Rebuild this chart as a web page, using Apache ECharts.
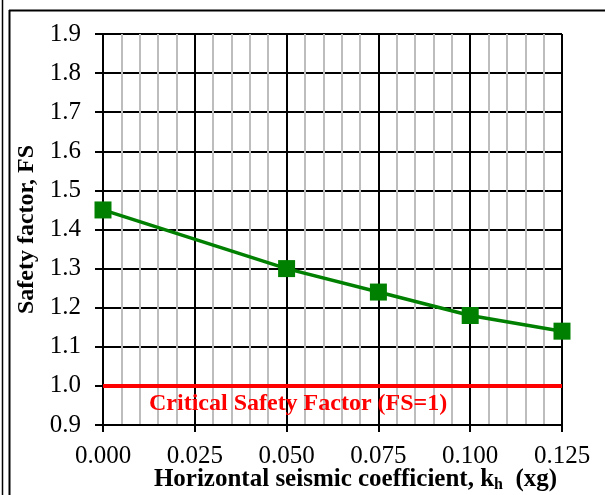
<!DOCTYPE html>
<html>
<head>
<meta charset="utf-8">
<script src="https://cdn.jsdelivr.net/npm/echarts@6/dist/echarts.min.js"></script>
<style>
  html, body { margin: 0; padding: 0; background: #fff; }
  #chart { width: 605px; height: 495px; }
</style>
</head>
<body>
<div id="chart"></div>
<script>
// horizontal seismic coefficient kh (xg) and safety factor FS
var khValues = [0.000, 0.050, 0.075, 0.100, 0.125]
var fsValues = [1.45, 1.30, 1.24, 1.18, 1.14]

// critical safety factor line (FS = 1)
var criticalX = [0.000, 0.125]
var criticalFS = [1.0, 1.0]
var criticalLabel = 'Critical Safety Factor (FS=1)'

var xTitle = 'Horizontal seismic coefficient, '
var yTitle = 'Safety factor, FS'

var font = '"Liberation Serif", "Times New Roman", serif'

var chart = echarts.init(document.getElementById('chart'))

chart.setOption({
  animation: false,
  backgroundColor: '#fff',
  grid: {
    left: 103,
    right: 43,
    top: 34,
    bottom: 70,
    containLabel: false,
    outerBoundsMode: 'none'
  },
  xAxis: {
    type: 'value',
    min: 0,
    max: 0.125,
    interval: 0.025,
    name: '{b|' + xTitle + 'k}{s|h}{b|  (xg)}',
    nameLocation: 'middle',
    nameGap: 42,
    nameMoveOverlap: false,
    nameTextStyle: {
      padding: [0, 0, 0, 46],
      rich: {
        b: { fontFamily: font, fontWeight: 'bold', fontSize: 25, color: '#000', lineHeight: 26 },
        s: { fontFamily: font, fontWeight: 'bold', fontSize: 16, color: '#000', lineHeight: 26, padding: [10, 0, 0, 0] }
      }
    },
    axisLine: { show: true, lineStyle: { color: '#000', width: 2 } },
    axisTick: { show: true, inside: false, length: 7, lineStyle: { color: '#000', width: 2 } },
    minorTick: { show: false, splitNumber: 5 },
    minorSplitLine: { show: true, lineStyle: { color: '#bdbdbd', width: 2 } },
    splitLine: { show: true, lineStyle: { color: '#000', width: 2 } },
    axisLabel: {
      margin: 19,
      fontFamily: font,
      fontSize: 25,
      color: '#000',
      formatter: function (v) { return v.toFixed(3) }
    }
  },
  yAxis: {
    type: 'value',
    min: 0.9,
    max: 1.9,
    interval: 0.1,
    name: yTitle,
    nameLocation: 'middle',
    nameGap: 64,
    nameMoveOverlap: false,
    nameTextStyle: { fontFamily: font, fontWeight: 'bold', fontSize: 24, color: '#000' },
    axisLine: { show: true, lineStyle: { color: '#000', width: 2 } },
    axisTick: { show: true, inside: false, length: 8, lineStyle: { color: '#000', width: 2 } },
    splitLine: { show: true, lineStyle: { color: '#000', width: 2 } },
    axisLabel: {
      margin: 22,
      fontFamily: font,
      fontSize: 25,
      color: '#000',
      formatter: function (v) { return v.toFixed(1) }
    }
  },
  series: [
    {
      name: 'FS',
      type: 'line',
      data: khValues.map(function (x, i) { return [x, fsValues[i]] }),
      symbol: 'rect',
      symbolSize: 17,
      lineStyle: { color: '#008000', width: 3.5 },
      itemStyle: { color: '#008000' },
      z: 5
    },
    {
      name: 'Critical',
      type: 'line',
      data: criticalX.map(function (x, i) { return [x, criticalFS[i]] }),
      symbol: 'none',
      lineStyle: { color: '#ff0000', width: 4 },
      z: 4
    }
  ],
  graphic: [
    // frame round the figure
    { type: 'line', shape: { x1: 9, y1: 10.5, x2: 605, y2: 10.5 }, style: { stroke: '#000', lineWidth: 2 } },
    { type: 'line', shape: { x1: 9.5, y1: 10, x2: 9.5, y2: 495 }, style: { stroke: '#000', lineWidth: 2 } },
    { type: 'line', shape: { x1: 2.5, y1: 0, x2: 2.5, y2: 495 }, style: { stroke: '#000', lineWidth: 1.5 } },
    {
      type: 'text',
      left: 149,
      top: 392,
      style: {
        text: criticalLabel,
        fill: '#ff0000',
        font: 'bold 24px ' + font
      },
      z: 10
    }
  ]
})
</script>
</body>
</html>
